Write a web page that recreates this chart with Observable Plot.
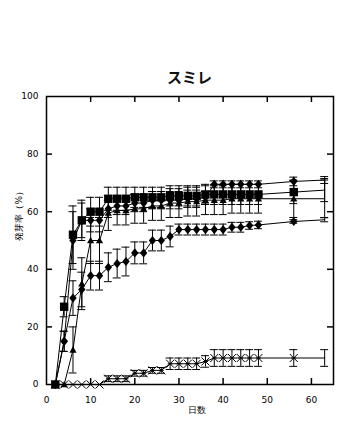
<!DOCTYPE html>
<html>
<head>
<meta charset="utf-8">
<script src="https://cdn.jsdelivr.net/npm/d3@7"></script>
<script src="https://cdn.jsdelivr.net/npm/@observablehq/plot@0.6"></script>
<style>
  html, body { margin: 0; padding: 0; background: white; }
  #title { box-sizing: border-box; height: 88px; margin-left: 46px; width: 287px; padding-top: 68px;
           text-align: center; font: bold 15px/18px "Noto Sans CJK JP", sans-serif; color: #111; }
  #chart svg { display: block; }
</style>
</head>
<body>
<div id="title">スミレ</div>
<div id="chart"></div>
<script>
const titleText = "スミレ";
const xLabel = "日数";
const yLabel = "発芽率（%）";
const xTickLabels = [0, 10, 20, 30, 40, 50, 60];
const yTickLabels = [0, 20, 40, 60, 80, 100];

const days = [2,4,6,8,10,12,14,16,18,20,22,24,26,28,30,32,34,36,38,40,42,44,46,48,56,63];

const squareVals = [0,27,52,57,60,60,64.5,64.5,64.5,65,65,65,65,65.5,65.5,65.5,65.5,66,66,66,66,66,66,66,66.8,67.5];
const squareErr  = [0,3.5,10,7,5,5,4,4,4,3.5,3.5,3.5,3.5,3.5,3.5,3.5,3.5,3.5,3.5,3.5,3.5,3.5,3.5,3.5,4,4];

const diamondHiVals = [0,15,50,57,57,57,61,62,62,63,63,64,64,64,64,64.5,64.5,65,69.5,69.5,69.5,69.5,69.5,69.5,70.5,71];
const diamondHiErr  = [0,3.5,10,6,4,4,3,3,3,3,3,3,3,3,3,3,3,2,1.2,1.2,1.2,1.2,1.2,1.2,1.5,1.2];

const triangleVals = [0,0,12,35,50,50,59.5,60.4,60.4,61,61,62,62,63,63,63.5,63.5,64,64,64,64.5,64.5,64.5,64.5,64.5,64.5];
const triangleErr  = [0,0,8,9,8,8,6,5,5,5,5,5,5,5,5,5,5,5,5,5,5,5,5,5,6.5,6.5];

const diamondLoVals = [0,15,30,33,37.8,37.8,40.7,42,42.7,45.7,45.7,50,50,51.4,53.8,53.8,53.8,53.8,53.8,53.8,54.6,54.6,55.2,55.4,56.6,57.2];
const diamondLoErr  = [0,3.5,6,6,5,5,5,5,5,3.8,3.8,3.6,3.6,3.6,1.9,1.9,1.9,1.9,1.9,1.9,1.7,1.7,1.3,1.3,0.6,0.7];

const crossVals = [0,0,0,0,0,0,2,2,2,3.9,3.9,4.9,4.9,7.2,7.2,7.2,7.2,8,9.2,9.2,9.2,9.2,9.2,9.2,9.2,9.2];
const crossErr  = [0,0,0,0,0,0,1,1,1,1,1,1,1,2,2,2,2,2,2.9,2.9,2.9,2.9,2.9,2.9,2.9,2.9];

// custom symbols
const rOf = (size) => Math.sqrt(size / Math.PI);
const symSquare = { draw(c, size) { const r = rOf(size); c.rect(-r, -r, 2*r, 2*r); } };
const symDiamond = { draw(c, size) { const r = rOf(size); c.moveTo(0,-r); c.lineTo(r*0.8,0); c.lineTo(0,r); c.lineTo(-r*0.8,0); c.closePath(); } };
const symTriangle = { draw(c, size) { const r = rOf(size); c.moveTo(0,-r); c.lineTo(r,r*0.75); c.lineTo(-r,r*0.75); c.closePath(); } };
const symCross = { draw(c, size) { const r = rOf(size); c.moveTo(-r,-r); c.lineTo(r,r); c.moveTo(-r,r); c.lineTo(r,-r); c.moveTo(-r*0.6,0); c.lineTo(r*0.6,0); } };

const series = [
  {name: "cross", vals: crossVals, err: crossErr, symbol: symCross, r: 4, filled: false},
  {name: "diamondLo", vals: diamondLoVals, err: diamondLoErr, symbol: symDiamond, r: 4.6, filled: true},
  {name: "triangle", vals: triangleVals, err: triangleErr, symbol: symTriangle, r: 3.6, filled: true},
  {name: "diamondHi", vals: diamondHiVals, err: diamondHiErr, symbol: symDiamond, r: 4.6, filled: true},
  {name: "square", vals: squareVals, err: squareErr, symbol: symSquare, r: 4.2, filled: true},
];

const rows = [];
for (const s of series) days.forEach((d, i) => rows.push({series: s.name, day: d, v: s.vals[i], e: s.err[i]}));
const errRows = rows.filter(d => d.e > 0);
const capHalf = 0.9;

const W = 355, H = 338, mT = 8, mB = 42, mL = 46, mR = 22;
const plotW = W - mL - mR, plotH = H - mT - mB;
const tickLen = 6;
const innerX = xTickLabels.filter(t => t > 0);
const innerY = yTickLabels.filter(t => t > 0 && t < 100);

const marks = [
  Plot.axisX({ticks: xTickLabels, tickSize: 0, tickPadding: 12, label: null, fontSize: 9}),
  Plot.axisY({ticks: yTickLabels, tickSize: 0, tickPadding: 8, label: null, fontSize: 9}),
  Plot.tickX(innerX, {x: d => d, insetTop: plotH - tickLen, stroke: "black", strokeWidth: 1.5}),
  Plot.tickX(innerX, {x: d => d, insetBottom: plotH - tickLen, stroke: "black", strokeWidth: 1.5}),
  Plot.tickY(innerY, {y: d => d, insetRight: plotW - tickLen, stroke: "black", strokeWidth: 1.5}),
  Plot.tickY(innerY, {y: d => d, insetLeft: plotW - tickLen, stroke: "black", strokeWidth: 1.5}),
  Plot.ruleX(errRows, {x: "day", y1: d => d.v - d.e, y2: d => d.v + d.e, stroke: "black", strokeWidth: 1}),
  Plot.ruleY(errRows, {y: d => d.v - d.e, x1: d => d.day - capHalf, x2: d => d.day + capHalf, stroke: "black", strokeWidth: 1}),
  Plot.ruleY(errRows, {y: d => d.v + d.e, x1: d => d.day - capHalf, x2: d => d.day + capHalf, stroke: "black", strokeWidth: 1}),
];
for (const s of series) {
  const data = rows.filter(d => d.series === s.name);
  marks.push(Plot.line(data, {x: "day", y: "v", stroke: "black", strokeWidth: 1}));
}
for (const s of series) {
  const data = rows.filter(d => d.series === s.name && d.day < 60);
  marks.push(Plot.dot(data, {x: "day", y: "v", symbol: s.symbol, r: s.r,
    fill: s.filled ? "black" : "none", stroke: s.filled ? "none" : "black", strokeWidth: 1}));
}
marks.push(Plot.frame({stroke: "black", strokeWidth: 1.5}));
marks.push(Plot.text([yLabel], {frameAnchor: "left", dx: -27, rotate: -90, fontSize: 9, fill: "black"}));
marks.push(Plot.text([xLabel], {frameAnchor: "bottom", dx: 7, dy: 28, fontSize: 9, fill: "black"}));

const chart = Plot.plot({
  width: W, height: H, marginTop: mT, marginBottom: mB, marginLeft: mL, marginRight: mR,
  style: {fontFamily: "'DejaVu Sans', sans-serif", fontSize: "9px", background: "white", color: "black"},
  x: {domain: [0, 65]},
  y: {domain: [0, 100]},
  marks
});
document.getElementById("title").textContent = titleText;
document.getElementById("chart").appendChild(chart);
</script>
</body>
</html>
